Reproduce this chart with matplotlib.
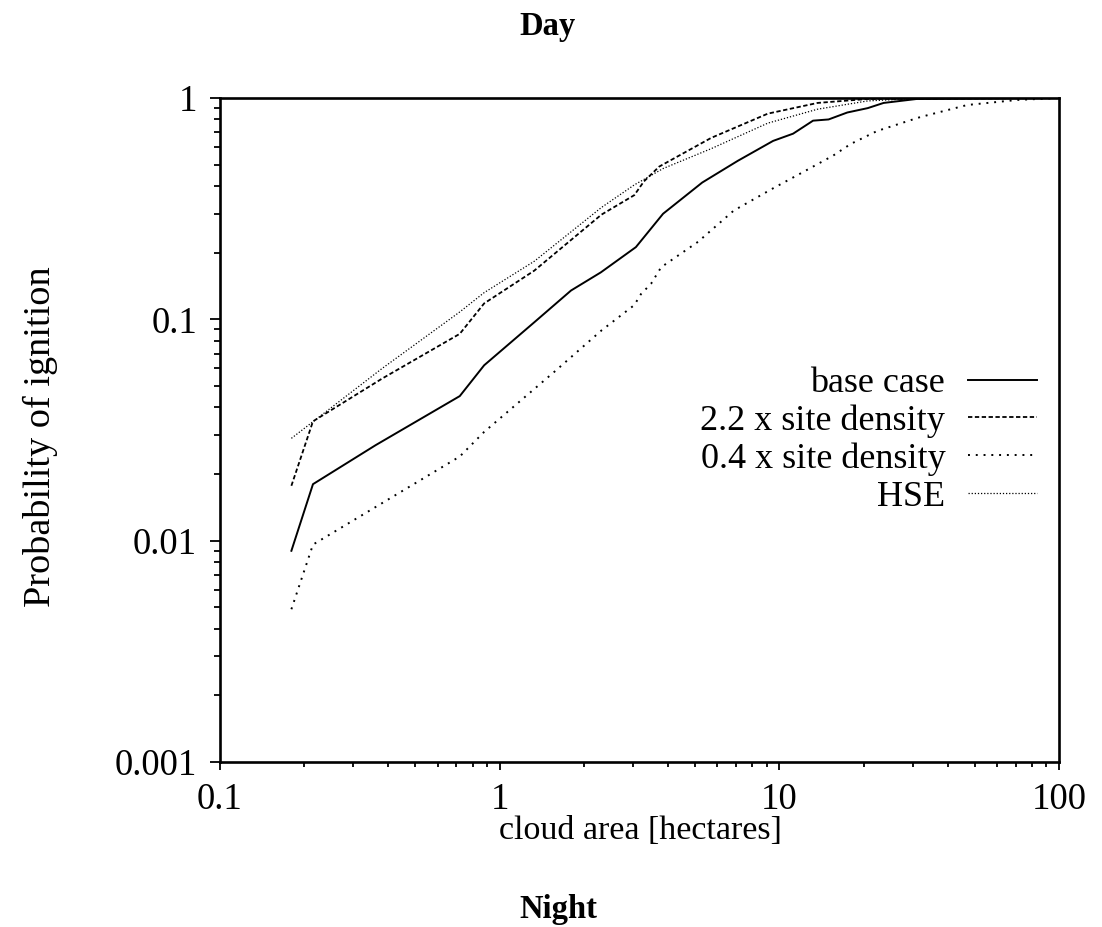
import matplotlib
matplotlib.use("Agg")
import matplotlib.pyplot as plt
from matplotlib.ticker import LogLocator, FixedLocator, FixedFormatter, NullFormatter

plt.rcParams['font.family'] = ['Liberation Serif', 'DejaVu Serif']

# cloud area [hectares] and probability of ignition for each case
base_x = [0.18, 0.215, 0.36, 0.72, 0.88, 1.33, 1.80, 2.30, 3.07, 3.84, 5.3, 7.1,
          9.5, 11.2, 13.2, 15.0, 17.5, 20.7, 23.6, 31, 100]
base_y = [0.009, 0.018, 0.027, 0.045, 0.062, 0.097, 0.135, 0.163, 0.212, 0.30, 0.415,
          0.52, 0.64, 0.69, 0.79, 0.80, 0.86, 0.90, 0.95, 0.99, 1.0]

dense_x = [0.18, 0.215, 0.38, 0.72, 0.88, 1.33, 2.31, 3.03, 3.28, 3.72, 5.7, 9.1,
           13.7, 20.7, 100]
dense_y = [0.0177, 0.0346, 0.054, 0.086, 0.118, 0.166, 0.297, 0.364, 0.42, 0.49,
           0.66, 0.85, 0.95, 0.99, 1.0]

sparse_x = [0.18, 0.215, 0.72, 0.88, 1.57, 2.31, 3.03, 3.2, 3.48, 3.78, 5.12, 6.87,
            9.47, 11.9, 15.6, 18.0, 22.4, 31.9, 47, 71, 100]
sparse_y = [0.0049, 0.0096, 0.024, 0.031, 0.058, 0.089, 0.116, 0.13, 0.145, 0.172,
            0.224, 0.31, 0.39, 0.456, 0.55, 0.62, 0.71, 0.82, 0.93, 0.98, 1.0]

hse_x = [0.18, 0.38, 0.72, 0.88, 1.33, 2.31, 3.03, 3.84, 5.7, 9.1, 13.7, 20.7, 31, 100]
hse_y = [0.029, 0.060, 0.108, 0.132, 0.183, 0.32, 0.405, 0.48, 0.59, 0.77, 0.89,
         0.97, 0.995, 1.0]

labels = ["base case", "2.2 x site density", "0.4 x site density", "HSE"]
x_ticks = [0.1, 1, 10, 100]
x_tick_labels = ["0.1", "1", "10", "100"]
y_ticks = [0.001, 0.01, 0.1, 1]
y_tick_labels = ["0.001", "0.01", "0.1", "1"]

FS = 26.5
LEG_FS = 26
W, H = 1102, 927
fig = plt.figure(figsize=(W / 100, H / 100), dpi=100)
ax = fig.add_axes([220 / W, 1 - 762 / H, (1059 - 220) / W, (762 - 98) / H])

ax.plot(base_x, base_y, color='black', lw=1.4, ls='-', label=labels[0])
ax.plot(dense_x, dense_y, color='black', lw=1.3, ls=(0, (2.4, 1.4)), label=labels[1])
ax.plot(sparse_x, sparse_y, color='black', lw=1.4, ls=(0, (1.0, 3.0)), label=labels[2])
ax.plot(hse_x, hse_y, color='black', lw=0.9, ls=(0, (1.0, 1.5)), label=labels[3])

ax.set_xscale('log')
ax.set_yscale('log')
ax.set_xlim(0.1, 100)
ax.set_ylim(0.001, 1)

ax.xaxis.set_major_locator(FixedLocator(x_ticks))
ax.xaxis.set_major_formatter(FixedFormatter(x_tick_labels))
ax.yaxis.set_major_locator(FixedLocator(y_ticks))
ax.yaxis.set_major_formatter(FixedFormatter(y_tick_labels))
ax.xaxis.set_minor_locator(LogLocator(base=10, subs=range(2, 10)))
ax.yaxis.set_minor_locator(LogLocator(base=10, subs=range(2, 10)))
ax.xaxis.set_minor_formatter(NullFormatter())
ax.yaxis.set_minor_formatter(NullFormatter())

ax.tick_params(axis='both', which='both', direction='out', top=False, right=False,
               labelsize=FS, width=1.3)
ax.tick_params(axis='y', which='major', length=7.5, pad=9)
ax.tick_params(axis='y', which='minor', length=4)
ax.tick_params(axis='x', which='major', length=6, pad=9)
ax.tick_params(axis='x', which='minor', length=3.5)

for side in ['left', 'bottom', 'top', 'right']:
    ax.spines[side].set_linewidth(1.9)

leg = ax.legend(loc='upper right', bbox_to_anchor=(1037 / W, 1 - 367 / H),
                bbox_transform=fig.transFigure, frameon=False, markerfirst=False,
                fontsize=LEG_FS, handlelength=1.9, handletextpad=0.64,
                labelspacing=0.12, borderpad=0, borderaxespad=0)
for t in leg.get_texts():
    t.set_ha('right')

fig.text(40 / W, 1 - 437 / H, "Probability of ignition", rotation=90,
         ha='center', va='center', fontsize=27.5)
fig.text(640 / W, 1 - 839 / H, "cloud area [hectares]", ha='center', va='baseline',
         fontsize=24.5)
fig.text(548 / W, 1 - 35 / H, "Day", ha='center', va='baseline', fontsize=23.5,
         fontweight='bold')
fig.text(558 / W, 1 - 918 / H, "Night", ha='center', va='baseline', fontsize=23.5,
         fontweight='bold')

fig.savefig("out.png", dpi=100)
